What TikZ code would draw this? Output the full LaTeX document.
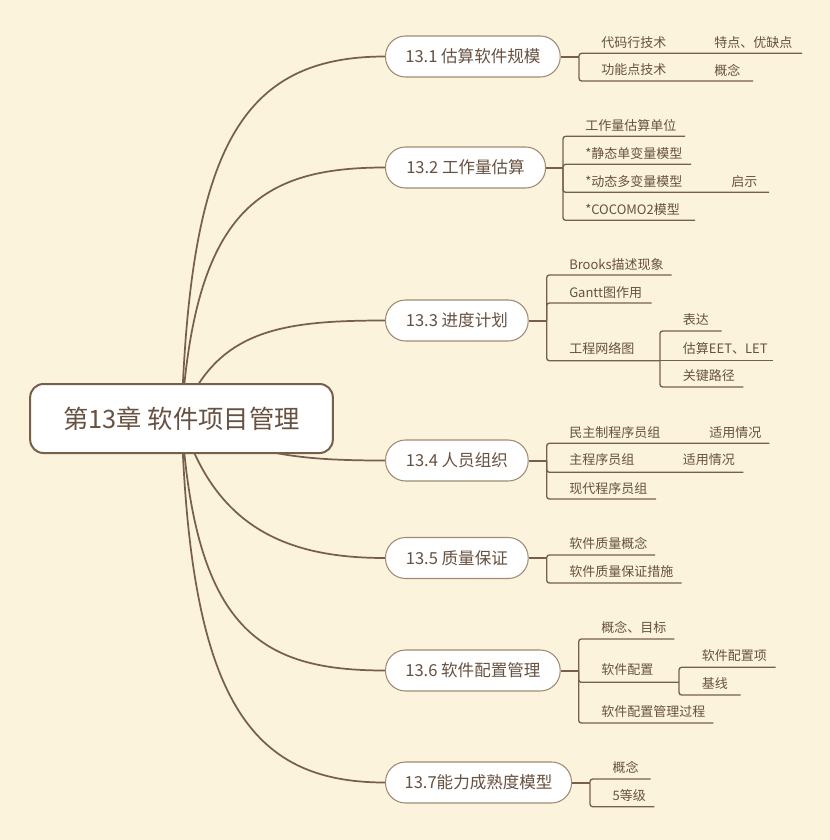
\documentclass[tikz,border=0pt]{standalone}
\usepackage{fontspec}
\setmainfont{Noto Sans CJK SC}
\definecolor{bgc}{HTML}{FBF3DC}
\definecolor{lnc}{HTML}{77604B}
\definecolor{txc}{HTML}{675140}
\definecolor{bdc}{HTML}{A08B74}
\begin{document}
\begin{tikzpicture}[x=0.75pt,y=-0.75pt,
  ln/.style={draw=lnc, line width=1pt, rounded corners=2pt},
  bl/.style={draw=lnc, line width=1.5pt},
  crv/.style={draw=lnc, line width=1.3pt},
  rootbox/.style={draw=lnc, line width=1.5pt, fill=white, rounded corners=10pt,
    minimum width=227pt, minimum height=51.75pt, inner sep=0,
    font=\fontsize{19}{22}\selectfont, text=txc},
  br/.style={draw=bdc, line width=0.8pt, fill=white, rounded corners=15pt,
    minimum height=30.75pt, inner sep=0, anchor=west,
    font=\fontsize{12.4}{14}\selectfont, text=txc},
  leaf/.style={font=\fontsize{9.75}{12}\selectfont, text=txc, anchor=west, inner sep=0}]
\fill[bgc] (0,0) rectangle (830,840);
\useasboundingbox (0,0) rectangle (830,840);

% coordinates for root and branches
\coordinate (rc) at (181.5,418.5);
\coordinate (w1) at (385,56.5);
\coordinate (w2) at (385,167.5);
\coordinate (w3) at (385,320.5);
\coordinate (w4) at (385,460.5);
\coordinate (w5) at (385,558);
\coordinate (w6) at (385,670.5);
\coordinate (w7) at (385,782.5);

% curves from root
\draw[crv] (rc) .. controls (190,150) and (240,56.5) .. (w1);
\draw[crv] (rc) .. controls (195,210) and (260,167.5) .. (w2);
\draw[crv] (rc) .. controls (215,330) and (280,320.5) .. (w3);
\draw[crv] (rc) .. controls (250,455) and (300,460.5) .. (w4);
\draw[crv] (rc) .. controls (215,530) and (290,558) .. (w5);
\draw[crv] (rc) .. controls (195,630) and (260,670.5) .. (w6);
\draw[crv] (rc) .. controls (190,700) and (250,782.5) .. (w7);

\node[rootbox] (r) at (rc) {第13章 软件项目管理};

\node[br, minimum width=131pt] (b1) at (w1) {13.1 估算软件规模};
\node[br, minimum width=120pt] (b2) at (w2) {13.2 工作量估算};
\node[br, minimum width=107pt] (b3) at (w3) {13.3 进度计划};
\node[br, minimum width=107pt] (b4) at (w4) {13.4 人员组织};
\node[br, minimum width=107pt] (b5) at (w5) {13.5 质量保证};
\node[br, minimum width=131pt] (b6) at (w6) {13.6 软件配置管理};
\node[br, minimum width=139.5pt] (b7) at (w7) {13.7能力成熟度模型};

% 13.1
\coordinate (j1) at (579,56.5);
\draw[bl] (b1.east) -- (j1);
\node[leaf] (c11) at (601,42.5) {代码行技术};
\node[leaf] (g11) at (714,42.5) {特点、优缺点};
\coordinate (e11) at (802,53.3);
\node[leaf] (c12) at (601,70) {功能点技术};
\node[leaf] (g12) at (714,70) {概念};
\coordinate (e12) at (753,81);
\draw[ln] (j1) |- (e11);
\draw[ln] (j1) |- (e12);

% 13.2
\coordinate (j2) at (563,167.5);
\draw[bl] (b2.east) -- (j2);
\node[leaf] (c21) at (585,125.7) {工作量估算单位};
\coordinate (e21) at (685,136.3);
\node[leaf] (c22) at (585,153.3) {*静态单变量模型};
\coordinate (e22) at (691,164.3);
\node[leaf] (c23) at (585,181.3) {*动态多变量模型};
\node[leaf] (g23) at (731,181.3) {启示};
\coordinate (e23) at (769,192.3);
\node[leaf] (c24) at (585,209.3) {*COCOMO2模型};
\coordinate (e24) at (695,220.3);
\draw[ln] (j2) |- (e21);
\draw[ln] (j2) |- (e22);
\draw[ln] (j2) |- (e23);
\draw[ln] (j2) |- (e24);

% 13.3
\coordinate (j3) at (546.7,320.5);
\draw[bl] (b3.east) -- (j3);
\node[leaf] (c31) at (569,264.3) {Brooks描述现象};
\coordinate (e31) at (671.7,275);
\node[leaf] (c32) at (569,292.3) {Gantt图作用};
\coordinate (e32) at (651.7,303);
\node[leaf] (c33) at (569,348.3) {工程网络图};
\coordinate (e33) at (660,360.7);
\draw[ln] (j3) |- (e31);
\draw[ln] (j3) |- (e32);
\draw[ln] (j3) |- (e33);
\node[leaf] (g31) at (682.7,320) {表达};
\coordinate (f31) at (721.7,331);
\node[leaf] (g32) at (682.7,348.3) {估算EET、LET};
\coordinate (f32) at (773.3,360.7);
\node[leaf] (g33) at (682.7,376) {关键路径};
\coordinate (f33) at (743.3,387);
\draw[ln] (e33) |- (f31);
\draw[ln] (e33) -- (f32);
\draw[ln] (e33) |- (f33);

% 13.4
\coordinate (j4) at (546.7,460.5);
\draw[bl] (b4.east) -- (j4);
\node[leaf] (c41) at (569,432.3) {民主制程序员组};
\node[leaf] (g41) at (709,432.3) {适用情况};
\coordinate (e41) at (769.3,443.3);
\node[leaf] (c42) at (569,460) {主程序员组};
\node[leaf] (g42) at (682.7,460) {适用情况};
\coordinate (e42) at (743.3,472.3);
\node[leaf] (c43) at (569,488.3) {现代程序员组};
\coordinate (e43) at (656,499);
\draw[ln] (j4) |- (e41);
\draw[ln] (j4) |- (e42);
\draw[ln] (j4) |- (e43);

% 13.5
\coordinate (j5) at (546.7,558);
\draw[bl] (b5.east) -- (j5);
\node[leaf] (c51) at (569,543.3) {软件质量概念};
\coordinate (e51) at (655,555);
\node[leaf] (c52) at (569,571.7) {软件质量保证措施};
\coordinate (e52) at (681.7,583);
\draw[ln] (j5) |- (e51);
\draw[ln] (j5) |- (e52);

% 13.6
\coordinate (j6) at (578.7,670.5);
\draw[bl] (b6.east) -- (j6);
\node[leaf] (c61) at (601,627.3) {概念、目标};
\coordinate (e61) at (674.3,639);
\node[leaf] (c62) at (601,670) {软件配置};
\coordinate (e62) at (679,682.3);
\node[leaf] (c63) at (601,711.7) {软件配置管理过程};
\coordinate (e63) at (713.3,723);
\draw[ln] (j6) |- (e61);
\draw[ln] (j6) |- (e62);
\draw[ln] (j6) |- (e63);
\node[leaf] (g61) at (701.7,655.7) {软件配置项};
\coordinate (f61) at (775.7,667.3);
\node[leaf] (g62) at (701.7,684) {基线};
\coordinate (f62) at (740.7,695);
\draw[ln] (e62) |- (f61);
\draw[ln] (e62) |- (f62);

% 13.7
\coordinate (j7) at (590,782.5);
\draw[bl] (b7.east) -- (j7);
\node[leaf] (c71) at (612.3,767.7) {概念};
\coordinate (e71) at (650.7,779);
\node[leaf] (c72) at (612.3,795.7) {5等级};
\coordinate (e72) at (654.3,806.7);
\draw[ln] (j7) |- (e71);
\draw[ln] (j7) |- (e72);
\end{tikzpicture}
\end{document}
